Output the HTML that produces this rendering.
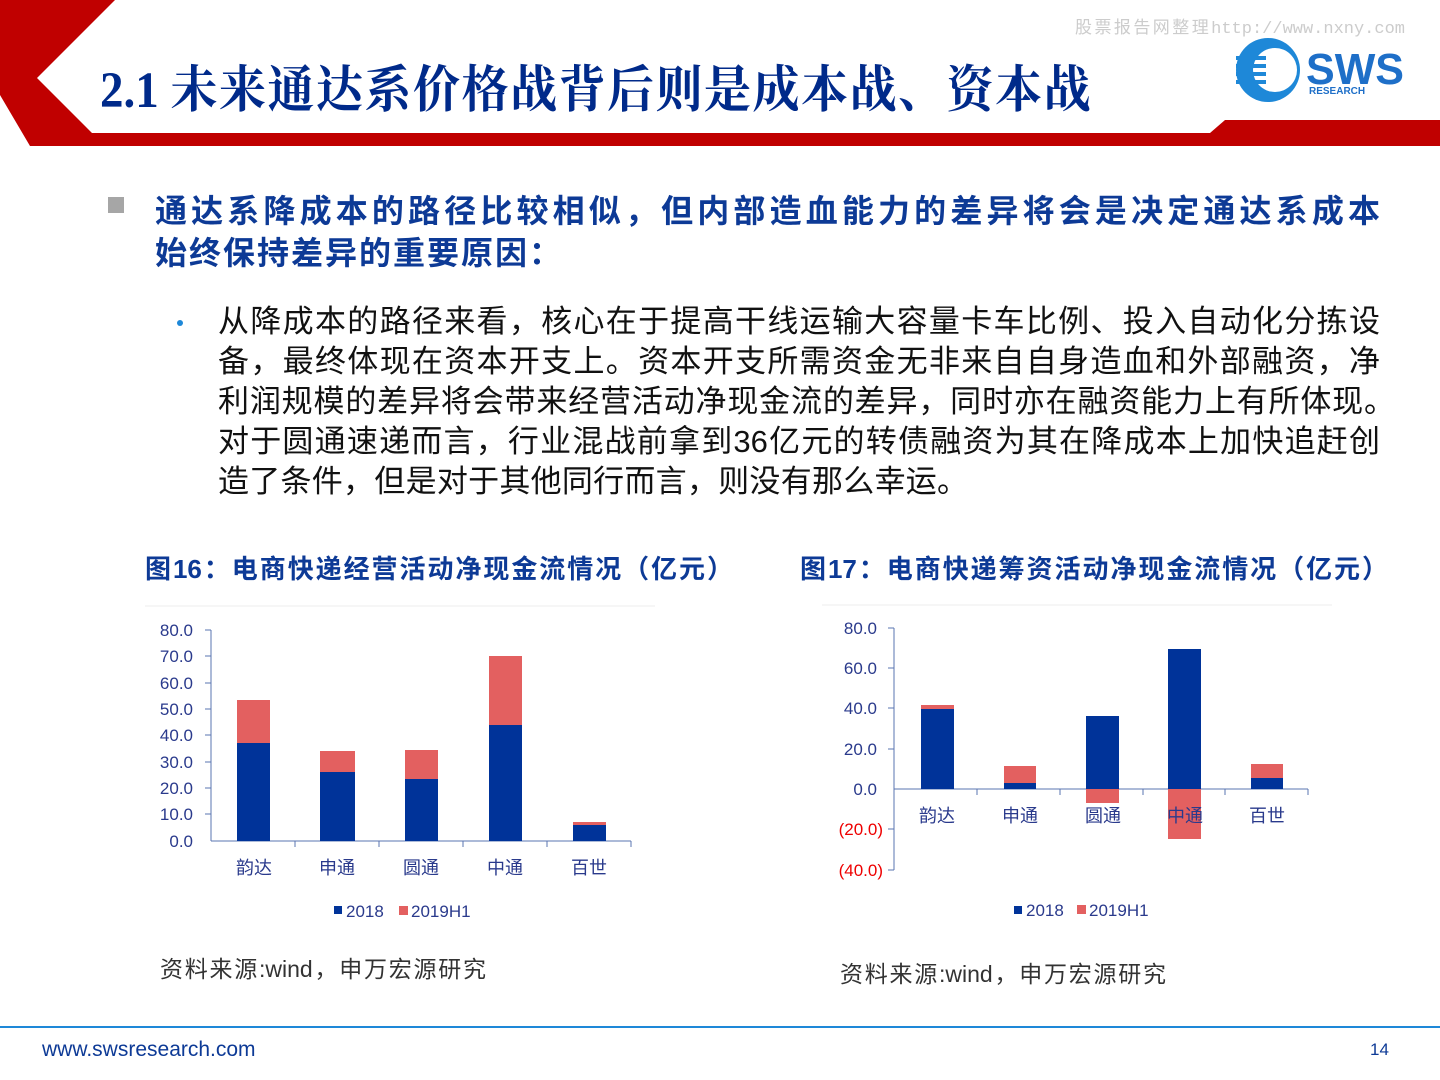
<!DOCTYPE html>
<html><head><meta charset="utf-8"><style>
body{margin:0;width:1440px;height:1080px;background:#fff;overflow:hidden;position:relative;font-family:"Liberation Sans","Noto Sans CJK SC",sans-serif}
.a{position:absolute;white-space:nowrap}
.j{position:absolute;white-space:nowrap;text-align:justify;text-align-last:justify}
</style></head><body>
<svg class="a" style="left:0;top:0" width="1440" height="1080">
<polygon points="0,0 115,0 37,78 92,133 1210,133 1225,120 1440,120 1440,146 30,146 0,95" fill="#c00000"/>
<circle cx="1268" cy="70" r="32" fill="#1e88d8"/>
<circle cx="1275" cy="70" r="22" fill="#fff"/>
<g fill="#1e88d8"><rect x="1236" y="56" width="30" height="4"/><rect x="1236" y="64" width="30" height="4"/><rect x="1236" y="72" width="30" height="4"/><rect x="1236" y="80" width="30" height="4"/></g>
<text x="1306" y="84" font-family="Liberation Sans" font-weight="bold" font-size="44" fill="#1e6fc8" textLength="98" lengthAdjust="spacingAndGlyphs">SWS</text>
<text x="1309" y="94" font-family="Liberation Sans" font-weight="bold" font-size="10" fill="#1e6fc8">RESEARCH</text>
<rect x="108" y="197" width="16" height="16" fill="#a6a6a6"/>
<circle cx="180" cy="323" r="3" fill="#1e88d8"/>
<g font-family="Liberation Sans" font-size="17" fill="#2a3a8c">
<line x1="145" y1="606" x2="655" y2="606" stroke="#eee"/>
<line x1="211" y1="630" x2="211" y2="841" stroke="#5a74b0"/>
<line x1="211" y1="841" x2="631" y2="841" stroke="#5a74b0"/>
<g stroke="#5a74b0"><line x1="205" y1="630" x2="211" y2="630"/><line x1="205" y1="656" x2="211" y2="656"/><line x1="205" y1="683" x2="211" y2="683"/><line x1="205" y1="709" x2="211" y2="709"/><line x1="205" y1="735" x2="211" y2="735"/><line x1="205" y1="762" x2="211" y2="762"/><line x1="205" y1="788" x2="211" y2="788"/><line x1="205" y1="814" x2="211" y2="814"/><line x1="295" y1="841" x2="295" y2="847"/><line x1="379" y1="841" x2="379" y2="847"/><line x1="463" y1="841" x2="463" y2="847"/><line x1="547" y1="841" x2="547" y2="847"/><line x1="631" y1="841" x2="631" y2="847"/></g>
<g text-anchor="end"><text x="193" y="636">80.0</text><text x="193" y="662">70.0</text><text x="193" y="689">60.0</text><text x="193" y="715">50.0</text><text x="193" y="741">40.0</text><text x="193" y="768">30.0</text><text x="193" y="794">20.0</text><text x="193" y="820">10.0</text><text x="193" y="847">0.0</text></g>
<rect x="237" y="700" width="33" height="43" fill="#e36060"/><rect x="237" y="743" width="33" height="98" fill="#003399"/>
<rect x="320" y="751" width="35" height="21" fill="#e36060"/><rect x="320" y="772" width="35" height="69" fill="#003399"/>
<rect x="405" y="750" width="33" height="29" fill="#e36060"/><rect x="405" y="779" width="33" height="62" fill="#003399"/>
<rect x="489" y="656" width="33" height="69" fill="#e36060"/><rect x="489" y="725" width="33" height="116" fill="#003399"/>
<rect x="573" y="822" width="33" height="3" fill="#e36060"/><rect x="573" y="825" width="33" height="16" fill="#003399"/>
<g font-family="Liberation Sans,Noto Sans CJK SC,sans-serif" font-size="18" text-anchor="middle"><text x="254" y="874">韵达</text><text x="337" y="874">申通</text><text x="421" y="874">圆通</text><text x="505" y="874">中通</text><text x="589" y="874">百世</text></g>
<rect x="334" y="906" width="8" height="8" fill="#003399"/><text x="346" y="917">2018</text>
<rect x="399" y="906" width="9" height="9" fill="#e36060"/><text x="411" y="917">2019H1</text>
</g>
<g font-family="Liberation Sans" font-size="17" fill="#2a3a8c">
<line x1="822" y1="605" x2="1332" y2="605" stroke="#eee"/>
<line x1="894" y1="628" x2="894" y2="870" stroke="#5a74b0"/>
<line x1="894" y1="789" x2="1308" y2="789" stroke="#5a74b0"/>
<g stroke="#5a74b0"><line x1="888" y1="628" x2="894" y2="628"/><line x1="888" y1="668" x2="894" y2="668"/><line x1="888" y1="708" x2="894" y2="708"/><line x1="888" y1="749" x2="894" y2="749"/><line x1="888" y1="829" x2="894" y2="829"/><line x1="888" y1="870" x2="894" y2="870"/><line x1="977" y1="789" x2="977" y2="795"/><line x1="1060" y1="789" x2="1060" y2="795"/><line x1="1143" y1="789" x2="1143" y2="795"/><line x1="1225" y1="789" x2="1225" y2="795"/><line x1="1308" y1="789" x2="1308" y2="795"/></g>
<g text-anchor="end"><text x="877" y="634">80.0</text><text x="877" y="674">60.0</text><text x="877" y="714">40.0</text><text x="877" y="755">20.0</text><text x="877" y="795">0.0</text><text x="883" y="835" fill="#e00">(20.0)</text><text x="883" y="876" fill="#e00">(40.0)</text></g>
<rect x="921" y="705" width="33" height="4" fill="#e36060"/><rect x="921" y="709" width="33" height="80" fill="#003399"/>
<rect x="1004" y="766" width="32" height="17" fill="#e36060"/><rect x="1004" y="783" width="32" height="6" fill="#003399"/>
<rect x="1086" y="716" width="33" height="73" fill="#003399"/><rect x="1086" y="789" width="33" height="14" fill="#e36060"/>
<rect x="1168" y="649" width="33" height="140" fill="#003399"/><rect x="1168" y="789" width="33" height="50" fill="#e36060"/>
<rect x="1251" y="764" width="32" height="14" fill="#e36060"/><rect x="1251" y="778" width="32" height="11" fill="#003399"/>
<g font-family="Liberation Sans,Noto Sans CJK SC,sans-serif" font-size="18" text-anchor="middle"><text x="937" y="822">韵达</text><text x="1020" y="822">申通</text><text x="1103" y="822">圆通</text><text x="1185" y="822">中通</text><text x="1267" y="822">百世</text></g>
<rect x="1014" y="906" width="8" height="8" fill="#003399"/><text x="1026" y="916">2018</text>
<rect x="1077" y="905" width="9" height="9" fill="#e36060"/><text x="1089" y="916">2019H1</text>
</g>
<line x1="0" y1="1027" x2="1440" y2="1027" stroke="#1e88d8" stroke-width="2"/>
</svg>
<div class="j" style="left:1075px;top:13px;width:330px;font-size:17px;color:#ccc;font-family:'Liberation Mono','Noto Sans CJK SC',monospace">股票报告网整理http://www.nxny.com</div>
<div class="a" style="left:100px;top:50px;font-size:47px;color:#002a8a;font-weight:bold;font-family:'Liberation Serif','Noto Serif CJK SC',serif;transform:scaleY(1.08);transform-origin:0 0">2.1 <span style="letter-spacing:1.5px">未来通达系价格战背后则是成本战、资本战</span></div>
<div class="j" style="left:155px;top:186px;width:1225px;font-size:32px;color:#0d3a96;font-weight:bold">通达系降成本的路径比较相似，但内部造血能力的差异将会是决定通达系成本</div>
<div class="a" style="left:155px;top:228px;font-size:32px;color:#0d3a96;font-weight:bold;letter-spacing:2px">始终保持差异的重要原因：</div>
<div style="position:absolute;left:218px;top:302px;font-size:31px;line-height:40px;color:#111">
<div class="j" style="position:relative;width:1162px">从降成本的路径来看，核心在于提高干线运输大容量卡车比例、投入自动化分拣设</div>
<div class="j" style="position:relative;width:1162px">备，最终体现在资本开支上。资本开支所需资金无非来自自身造血和外部融资，净</div>
<div class="j" style="position:relative;width:1177px">利润规模的差异将会带来经营活动净现金流的差异，同时亦在融资能力上有所体现。</div>
<div class="j" style="position:relative;width:1162px">对于圆通速递而言，行业混战前拿到36亿元的转债融资为其在降成本上加快追赶创</div>
<div class="j" style="position:relative;width:750px">造了条件，但是对于其他同行而言，则没有那么幸运。</div>
</div>
<div class="j" style="left:145px;top:549px;width:588px;font-size:26px;color:#0d3a96;font-weight:bold">图16：电商快递经营活动净现金流情况（亿元）</div>
<div class="j" style="left:800px;top:549px;width:588px;font-size:26px;color:#0d3a96;font-weight:bold">图17：电商快递筹资活动净现金流情况（亿元）</div>
<div class="j" style="left:160px;top:950px;width:326px;font-size:23px;color:#333">资料来源:wind，申万宏源研究</div>
<div class="j" style="left:840px;top:955px;width:326px;font-size:23px;color:#333">资料来源:wind，申万宏源研究</div>
<div class="a" style="left:42px;top:1038px;font-size:21px;color:#0d3a96">www.swsresearch.com</div>
<div class="a" style="left:1370px;top:1040px;font-size:17px;color:#0d3a96">14</div>
</body></html>
